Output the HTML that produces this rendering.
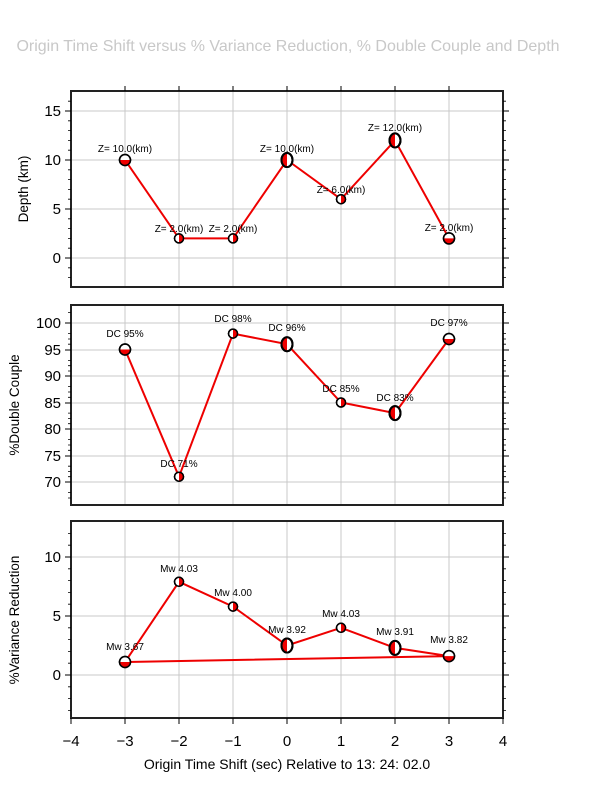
<!DOCTYPE html>
<html><head><meta charset="utf-8"><style>
body{margin:0;background:#fff}
svg{display:block;font-family:"Liberation Sans",sans-serif}
</style></head><body>
<svg width="612" height="792" viewBox="0 0 612 792" xmlns="http://www.w3.org/2000/svg">
<text x="288" y="51" font-size="16" fill="#c8c8c8" text-anchor="middle">Origin Time Shift versus % Variance Reduction, % Double Couple and Depth</text>
<defs>
<g id="ball"><circle r="4.5" fill="#fff" stroke="#000" stroke-width="1.5"/><path d="M0,-4.5 A4.5,4.5 0 0 1 0,4.5 Z" fill="#e00"/><circle r="4.5" fill="none" stroke="#000" stroke-width="1.5"/></g>
<g id="ballb"><circle r="5.5" fill="#fff" stroke="#000" stroke-width="1.5"/><path d="M-5.5,0 A5.5,5.5 0 0 0 5.5,0 Z" fill="#e00"/><circle r="5.5" fill="none" stroke="#000" stroke-width="1.5"/></g>
<g id="ballc"><ellipse rx="5.5" ry="7" fill="#fff" stroke="#000" stroke-width="2"/><path d="M0,-7 A5.5,7 0 0 0 0,7 Z" fill="#e00"/><ellipse rx="5.5" ry="7" fill="none" stroke="#000" stroke-width="2"/></g>
</defs>
<g stroke="#c8c8c8" stroke-width="1">
<path d="M125,91V287M179,91V287M233,91V287M287,91V287M341,91V287M395,91V287M449,91V287"/>
<path d="M71,111H503M71,160H503M71,209H503M71,258H503"/>
<path d="M125,305V505M179,305V505M233,305V505M287,305V505M341,305V505M395,305V505M449,305V505"/>
<path d="M71,323H503M71,350H503M71,376H503M71,403H503M71,429H503M71,456H503M71,482H503"/>
<path d="M125,521V718M179,521V718M233,521V718M287,521V718M341,521V718M395,521V718M449,521V718"/>
<path d="M71,557H503M71,616H503M71,675H503"/>
</g>
<g fill="none" stroke="#222" stroke-width="2">
<rect x="71" y="91" width="432" height="196"/>
<rect x="71" y="305" width="432" height="200"/>
<rect x="71" y="521" width="432" height="197"/>
</g>
<g stroke="#000" stroke-width="1">
<path d="M71,111h-6M71,160h-6M71,209h-6M71,258h-6M503,111h6M503,160h6M503,209h6M503,258h6"/>
<path d="M71,323h-6M71,350h-6M71,376h-6M71,403h-6M71,429h-6M71,456h-6M71,482h-6M503,323h6M503,350h6M503,376h6M503,403h6M503,429h6M503,456h6M503,482h6"/>
<path d="M71,557h-6M71,616h-6M71,675h-6M503,557h6M503,616h6M503,675h6"/>
<path d="M71,718v6M125,718v6M179,718v6M233,718v6M287,718v6M341,718v6M395,718v6M449,718v6M503,718v6"/>
<path d="M125,91v-5M179,91v-5M233,91v-5M287,91v-5M341,91v-5M395,91v-5M449,91v-5"/>
</g>
<g stroke="#000" stroke-width="0.8">
<path d="M71,101.2h-3M71,120.8h-3M71,130.6h-3M71,140.4h-3M71,150.2h-3M71,169.8h-3M71,179.6h-3M71,189.4h-3M71,199.2h-3M71,218.8h-3M71,228.6h-3M71,238.4h-3M71,248.2h-3M71,267.8h-3M71,277.6h-3"/>
<path d="M503,101.2h3M503,120.8h3M503,130.6h3M503,140.4h3M503,150.2h3M503,169.8h3M503,179.6h3M503,189.4h3M503,199.2h3M503,218.8h3M503,228.6h3M503,238.4h3M503,248.2h3M503,267.8h3M503,277.6h3"/>
<path d="M71,533.4h-3M71,545.2h-3M71,568.8h-3M71,580.6h-3M71,592.4h-3M71,604.2h-3M71,627.8h-3M71,639.6h-3M71,651.4h-3M71,663.2h-3M71,686.8h-3M71,698.6h-3M71,710.4h-3"/>
<path d="M503,533.4h3M503,545.2h3M503,568.8h3M503,580.6h3M503,592.4h3M503,604.2h3M503,627.8h3M503,639.6h3M503,651.4h3M503,663.2h3M503,686.8h3M503,698.6h3M503,710.4h3"/>
<path d="M71,312.4h-3M71,333.6h-3M71,339h-3M71,344.2h-3M71,360.6h-3M71,365.7h-3M71,371h-3M71,386.6h-3M71,392h-3M71,397.3h-3M71,413.1h-3M71,418.4h-3M71,423.7h-3M71,439.6h-3M71,445h-3M71,450.3h-3M71,466.2h-3M71,471.4h-3M71,476.7h-3M71,492.6h-3M71,498h-3"/>
<path d="M503,312.4h3M503,333.6h3M503,339h3M503,344.2h3M503,360.6h3M503,365.7h3M503,371h3M503,386.6h3M503,392h3M503,397.3h3M503,413.1h3M503,418.4h3M503,423.7h3M503,439.6h3M503,445h3M503,450.3h3M503,466.2h3M503,471.4h3M503,476.7h3M503,492.6h3M503,498h3"/>
</g>
<g font-size="15" text-anchor="end">
<text x="61" y="116">15</text><text x="61" y="165">10</text><text x="61" y="214">5</text><text x="61" y="263">0</text>
<text x="61" y="328">100</text><text x="61" y="355">95</text><text x="61" y="381">90</text><text x="61" y="408">85</text><text x="61" y="434">80</text><text x="61" y="461">75</text><text x="61" y="487">70</text>
<text x="61" y="562">10</text><text x="61" y="621">5</text><text x="61" y="680">0</text>
</g>
<g font-size="15" text-anchor="middle">
<text x="71" y="746">−4</text><text x="125" y="746">−3</text><text x="179" y="746">−2</text><text x="233" y="746">−1</text><text x="287" y="746">0</text><text x="341" y="746">1</text><text x="395" y="746">2</text><text x="449" y="746">3</text><text x="503" y="746">4</text>
</g>
<text x="287" y="769" font-size="14" text-anchor="middle">Origin Time Shift (sec) Relative to 13: 24: 02.0</text>
<text transform="translate(28,189) rotate(-90)" font-size="13.5" text-anchor="middle">Depth (km)</text>
<text transform="translate(19,405) rotate(-90)" font-size="13.5" text-anchor="middle">%Double Couple</text>
<text transform="translate(19,620) rotate(-90)" font-size="13.5" text-anchor="middle">%Variance Reduction</text>
<g fill="none" stroke="#e00" stroke-width="2">
<polyline points="125,160 179,238.4 233,238.4 287,160 341,199.2 395,140.4 449,238.4"/>
<polyline points="125,349.5 179,476.7 233,333.6 287,344.2 341,402.5 395,413.1 449,339"/>
<polyline points="125,662 179,581.8 233,606.6 287,645.5 341,627.8 395,647.9 449,656.1 125,662"/>
</g>
<use href="#ballb" x="125" y="160"/><use href="#ball" x="179" y="238.4"/><use href="#ball" x="233" y="238.4"/><use href="#ballc" x="287" y="160"/><use href="#ball" x="341" y="199.2"/><use href="#ballc" x="395" y="140.4"/><use href="#ballb" x="449" y="238.4"/>
<use href="#ballb" x="125" y="349.5"/><use href="#ball" x="179" y="476.7"/><use href="#ball" x="233" y="333.6"/><use href="#ballc" x="287" y="344.2"/><use href="#ball" x="341" y="402.5"/><use href="#ballc" x="395" y="413.1"/><use href="#ballb" x="449" y="339"/>
<use href="#ballb" x="125" y="662"/><use href="#ball" x="179" y="581.8"/><use href="#ball" x="233" y="606.6"/><use href="#ballc" x="287" y="645.5"/><use href="#ball" x="341" y="627.8"/><use href="#ballc" x="395" y="647.9"/><use href="#ballb" x="449" y="656.1"/>
<g font-size="10" text-anchor="middle">
<text x="125" y="152">Z= 10.0(km)</text><text x="179" y="232">Z= 2.0(km)</text><text x="233" y="232">Z= 2.0(km)</text><text x="287" y="152">Z= 10.0(km)</text><text x="341" y="193">Z= 6.0(km)</text><text x="395" y="131">Z= 12.0(km)</text><text x="449" y="231">Z= 2.0(km)</text>
<text x="125" y="337">DC 95%</text><text x="179" y="467">DC 71%</text><text x="233" y="322">DC 98%</text><text x="287" y="331">DC 96%</text><text x="341" y="392">DC 85%</text><text x="395" y="401">DC 83%</text><text x="449" y="326">DC 97%</text>
<text x="125" y="650">Mw 3.67</text><text x="179" y="572">Mw 4.03</text><text x="233" y="596">Mw 4.00</text><text x="287" y="633">Mw 3.92</text><text x="341" y="617">Mw 4.03</text><text x="395" y="635">Mw 3.91</text><text x="449" y="643">Mw 3.82</text>
</g>
</svg>
</body></html>
